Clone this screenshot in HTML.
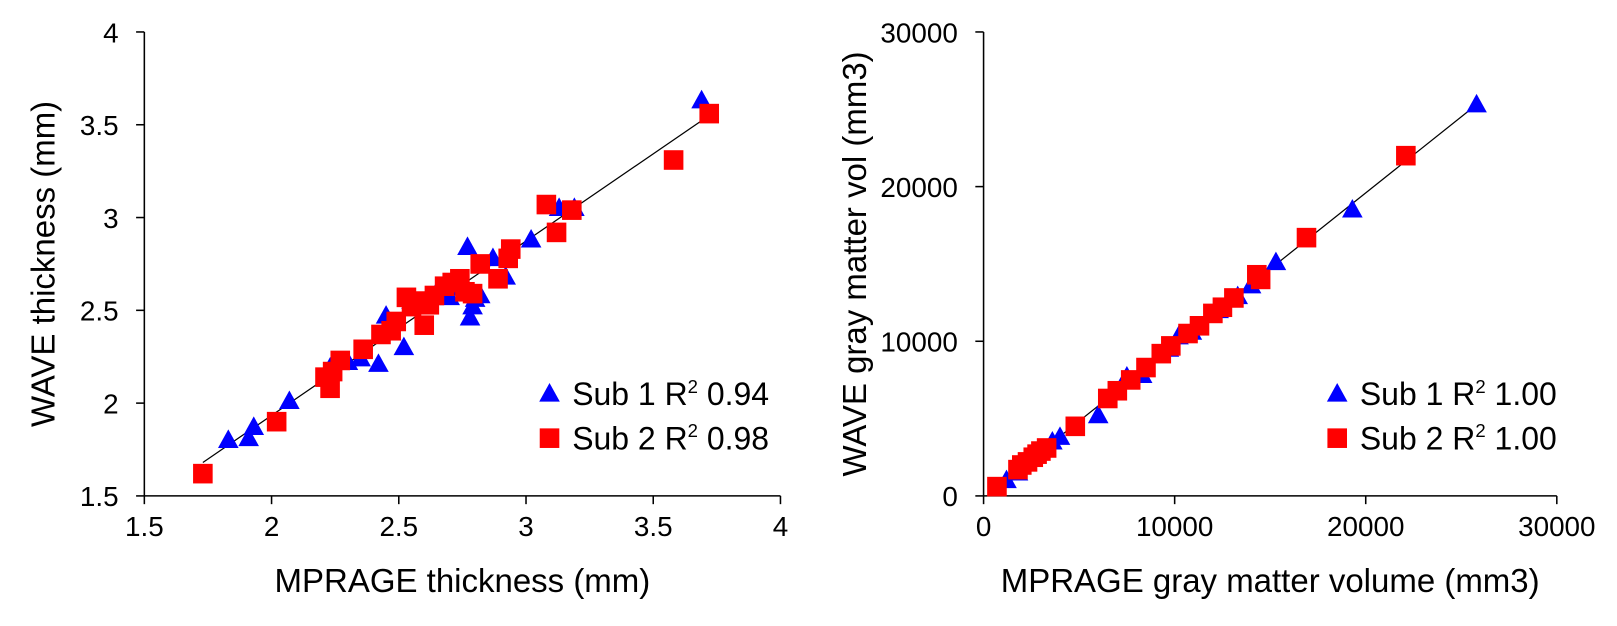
<!DOCTYPE html>
<html><head><meta charset="utf-8"><style>
body{margin:0;background:#fff;}
svg{display:block;font-family:"Liberation Sans",Arial,sans-serif;}
</style></head><body>
<svg width="1617" height="626"><g id="c" transform="scale(1.031)"></g></svg>
<script>
const leftXTicks=[1.5,2,2.5,3,3.5,4];
const leftYTicks=[1.5,2,2.5,3,3.5,4];
const leftSub1X=[1.83,1.91,1.93,2.07,2.23,2.30,2.35,2.42,2.45,2.47,2.52,2.55,2.60,2.65,2.70,2.73,2.77,2.78,2.79,2.80,2.82,2.87,2.92,3.02,3.13,3.19,3.69];
const leftSub1Y=[1.80,1.81,1.87,2.01,2.19,2.22,2.24,2.21,2.47,2.38,2.30,2.55,2.52,2.60,2.57,2.62,2.84,2.46,2.52,2.56,2.58,2.78,2.68,2.88,3.05,3.05,3.63];
const leftSub2X=[1.73,2.02,2.21,2.23,2.24,2.27,2.36,2.43,2.47,2.49,2.53,2.55,2.58,2.60,2.62,2.64,2.68,2.71,2.74,2.76,2.79,2.82,2.89,2.93,2.94,3.08,3.12,3.18,3.58,3.72];
const leftSub2Y=[1.62,1.90,2.14,2.08,2.17,2.23,2.29,2.37,2.39,2.44,2.57,2.52,2.55,2.42,2.53,2.58,2.63,2.65,2.67,2.60,2.59,2.75,2.67,2.78,2.83,3.07,2.92,3.04,3.31,3.56];
const leftFitX=[1.73,3.72];
const leftFitY=[1.68,3.55];
const rightXTicks=[0,10000,20000,30000];
const rightYTicks=[0,10000,20000,30000];
const rightSub1X=[1200,1800,3200,3600,4000,6000,7500,8300,9700,10200,10900,12300,13300,14000,15300,19300,25800];
const rightSub1Y=[1000,1500,3000,3500,3800,5200,7700,7800,9500,10300,10600,12000,12900,13600,15100,18500,25300];
const rightSub2X=[700,1800,2000,2300,2600,2800,3000,3300,4800,6500,7000,7700,8500,9300,9800,10700,11300,12000,12500,13100,14300,14500,16900,22100];
const rightSub2Y=[600,1700,2000,2200,2500,2700,2900,3100,4500,6300,6800,7500,8300,9200,9700,10500,11000,11800,12200,12800,14300,14000,16700,22000];
const rightFitX=[1000,25800];
const rightFitY=[900,25300];

const NS="http://www.w3.org/2000/svg";
const svg=document.getElementById('c');
function mk(tag,attrs,parent){const e=document.createElementNS(NS,tag);for(const k in attrs)e.setAttribute(k,attrs[k]);(parent||svg).appendChild(e);return e;}

function panel(o){
  const g=mk('g',{});
  
  
  const sx=v=>o.x0+(v-o.xmin)/(o.xmax-o.xmin)*(o.x1-o.x0);
  const sy=v=>o.y0-(v-o.ymin)/(o.ymax-o.ymin)*(o.y0-o.y1);
  const ax=mk('line',{x1:o.x0,y1:o.y0,x2:o.x1,y2:o.y0,stroke:'#000','stroke-width':1.5},g);
  
  
  const ay=mk('line',{x1:o.x0,y1:o.y0,x2:o.x0,y2:o.y1,stroke:'#000','stroke-width':1.5},g);
  
  
  o.xt.forEach(t=>{
    mk('line',{x1:sx(t),y1:o.y0,x2:sx(t),y2:o.y0+8,stroke:'#000','stroke-width':1.5},g);
    const tx=mk('text',{x:sx(t),y:o.y0+39,'text-anchor':'middle','font-size':27,fill:'#000'},g);
    tx.textContent=t;
    
    
  });
  o.yt.forEach(t=>{
    mk('line',{x1:o.x0-8,y1:sy(t),x2:o.x0,y2:sy(t),stroke:'#000','stroke-width':1.5},g);
    const tx=mk('text',{x:o.x0-25,y:sy(t)+10,'text-anchor':'end','font-size':27,fill:'#000'},g);
    tx.textContent=t;
    
    
  });
  const fit=mk('line',{x1:sx(o.fx[0]),y1:sy(o.fy[0]),x2:sx(o.fx[1]),y2:sy(o.fy[1]),stroke:'#000','stroke-width':1.2},g);
  
  
  o.s1x.forEach((v,i)=>{
    const x=sx(v),y=sy(o.s1y[i]);
    const p=mk('polygon',{points:`${x},${y-10.5} ${x-10},${y+7.5} ${x+10},${y+7.5}`,fill:'#0000ff'},g);
    
    
  });
  o.s2x.forEach((v,i)=>{
    const x=sx(v),y=sy(o.s2y[i]);
    const r=mk('rect',{x:x-9.5,y:y-9.5,width:19,height:19,fill:'#ff0000'},g);
    
    
  });
  const xt=mk('text',{x:(o.x0+o.x1)/2,y:574,'text-anchor':'middle','font-size':32,fill:'#000'},g);
  xt.textContent=o.xtitle;
  
  
  const yt=mk('text',{x:0,y:0,'text-anchor':'middle','font-size':32,fill:'#000',transform:`translate(${o.ytx},${(o.y0+o.y1)/2}) rotate(-90)`},g);
  yt.textContent=o.ytitle;
  
  
  [[o.r1,'tri',0],[o.r2,'sq',43]].forEach(([r,shape,dy],k)=>{
    const lg=mk('g',{},g);
    
    
    const lx=o.lx,ly=o.ly+dy;
    if(shape==='tri')mk('polygon',{points:`${lx},${ly-10.5} ${lx-10},${ly+7.5} ${lx+10},${ly+7.5}`,fill:'#0000ff'},lg);
    else mk('rect',{x:lx-9.5,y:ly-9.5,width:19,height:19,fill:'#ff0000'},lg);
    const t=mk('text',{x:lx+22,y:ly+11,'font-size':31,fill:'#000'},lg);
    t.innerHTML=`Sub ${k+1} R<tspan font-size="18" dy="-12">2</tspan><tspan dy="12"> ${r}</tspan>`;
  });
}
panel({name:'thickness-chart',x0:140,x1:757,y0:481,y1:31,xmin:1.5,xmax:4,ymin:1.5,ymax:4,xt:leftXTicks,yt:leftYTicks,
  s1x:leftSub1X,s1y:leftSub1Y,s2x:leftSub2X,s2y:leftSub2Y,fx:leftFitX,fy:leftFitY,
  xtitle:'MPRAGE thickness (mm)',ytitle:'WAVE thickness (mm)',ytx:53,lx:533,ly:382,r1:'0.94',r2:'0.98'});
panel({name:'volume-chart',x0:954,x1:1510,y0:481,y1:31,xmin:0,xmax:30000,ymin:0,ymax:30000,xt:rightXTicks,yt:rightYTicks,
  s1x:rightSub1X,s1y:rightSub1Y,s2x:rightSub2X,s2y:rightSub2Y,fx:rightFitX,fy:rightFitY,
  xtitle:'MPRAGE gray matter volume (mm3)',ytitle:'WAVE gray matter vol (mm3)',ytx:840,lx:1297,ly:382,r1:'1.00',r2:'1.00'});
</script>
</body></html>
